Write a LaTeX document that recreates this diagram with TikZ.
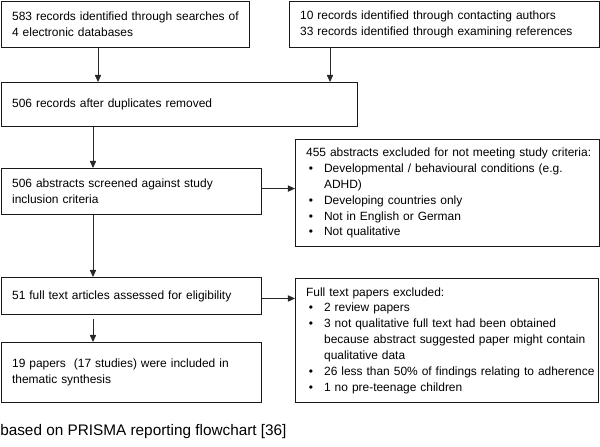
\documentclass[tikz,border=0pt]{standalone}
\usepackage{fontspec}
\setmainfont{Liberation Sans}
\usetikzlibrary{arrows.meta}
\definecolor{boxline}{RGB}{25, 25, 25}
\definecolor{flowline}{RGB}{40, 40, 40}
\newcommand{\bul}{\makebox[12.8pt][l]{\hspace{2pt}\textbullet}}

\begin{document}
\begin{tikzpicture}[
    x=0.025cm, y=-0.025cm,
    font=\fontsize{8.5}{11.3}\selectfont,
    >={Triangle[length=5pt,width=4.4pt]},
    stage/.style={
        rectangle, anchor=north west,
        align=left,
        draw=boxline, line width=0.8pt,
        inner xsep=7.5pt, inner ysep=2pt
    },
    flow/.style={
        ->, line width=0.7pt,
        color=flowline
    }
]
\useasboundingbox (0,0) rectangle (600,447);

% Identification
\node[stage, text width=5.67cm, minimum height=1.15cm] at (1,1) (searched)
    {583 records identified through searches of\\4 electronic databases};
\node[stage, text width=7.22cm, minimum height=1.15cm] at (289,1) (other)
    {10 records identified through contacting authors\\33 records identified through examining references};

% Screening
\node[stage, text width=8.37cm, minimum height=1.1cm] at (1,82) (deduped)
    {506 records after duplicates removed};
\node[stage, text width=5.97cm, minimum height=1.15cm] at (1,168) (screened)
    {506 abstracts screened against study\\inclusion criteria};
\node[stage, text width=7.07cm, minimum height=2.675cm] at (295,139) (absexcl) {%
    \begin{tabular}{@{}l@{}l@{}}
    \multicolumn{2}{@{}l@{}}{455 abstracts excluded for not meeting study criteria:}\\
    \bul & Developmental / behavioural conditions (e.g.\\
         & ADHD)\\
    \bul & Developing countries only\\
    \bul & Not in English or German\\
    \bul & Not qualitative
    \end{tabular}};

% Eligibility
\node[stage, text width=5.97cm, minimum height=0.925cm] at (1,277) (fulltext)
    {51 full text articles assessed for eligibility};
\node[stage, text width=7.045cm, minimum height=3.1cm] at (295,278) (ftexcl) {%
    \begin{tabular}{@{}l@{}l@{}}
    \multicolumn{2}{@{}l@{}}{Full text papers excluded:}\\
    \bul & 2 review papers\\
    \bul & 3 not qualitative full text had been obtained\\
         & because abstract suggested paper might contain\\
         & qualitative data\\
    \bul & 26 less than 50\% of findings relating to adherence\\
    \bul & 1 no pre-teenage children
    \end{tabular}};

% Included
\node[stage, text width=5.97cm, minimum height=1.5cm] at (1,342) (included)
    {19 papers~ (17 studies) were included in\\thematic synthesis};

% Source note
\node[anchor=base west, inner sep=0pt, font=\fontsize{10.9}{13}\selectfont] at (0,435) (source)
    {based on PRISMA reporting flowchart [36]};

% === CONNECTIONS ===
\coordinate (spine) at (93,0);
\coordinate (leftdrop) at (98,0);
\coordinate (rightdrop) at (330,0);

\draw[flow] (searched.south -| leftdrop) -- (deduped.north -| leftdrop);
\draw[flow] (other.south -| rightdrop) -- (deduped.north -| rightdrop);
\draw[flow] (deduped.south -| spine) -- (screened.north -| spine);
\draw[flow] ([yshift=0.075cm]screened.east) -- ([yshift=0.075cm]screened.east -| absexcl.west);
\draw[flow] (screened.south -| spine) -- (fulltext.north -| spine);
\draw[flow] ([yshift=-0.06cm]fulltext.east) -- ([yshift=-0.06cm]fulltext.east -| ftexcl.west);
\draw[flow] ([yshift=-0.1cm]fulltext.south -| spine) -- (included.north -| spine);

\end{tikzpicture}
\end{document}
